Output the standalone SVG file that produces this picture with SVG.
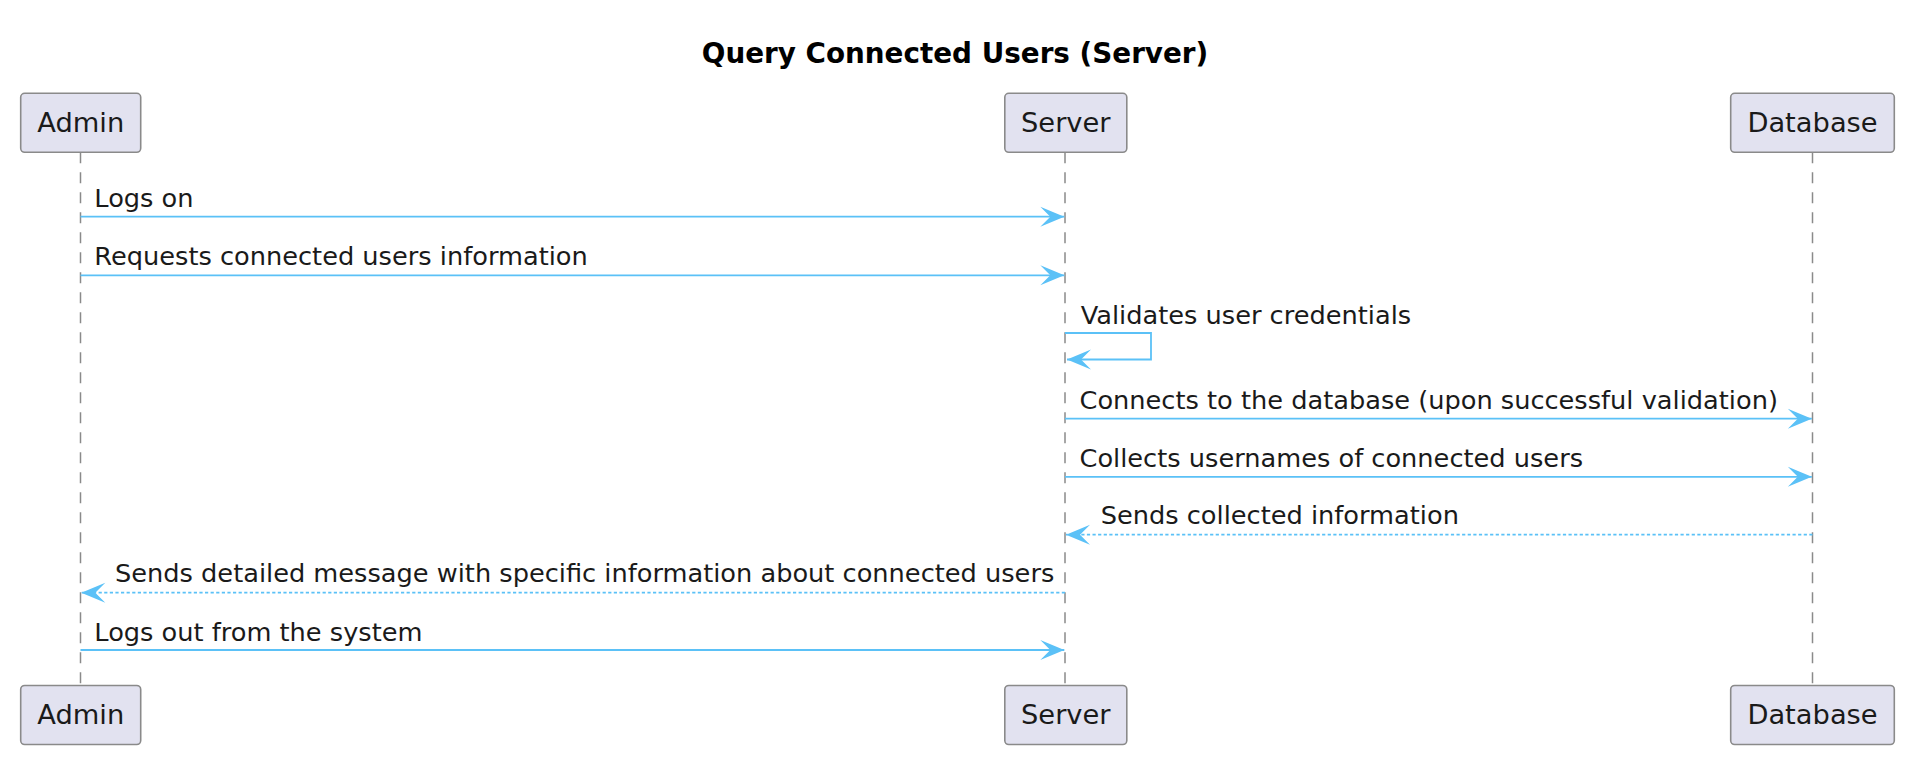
<svg xmlns="http://www.w3.org/2000/svg" width="1910" height="782" viewBox="0 0 1910 782">
<style>
.box{fill:#E2E2F0;stroke:#8a8a8a;stroke-width:1.6}
.pt{font-family:"DejaVu Sans",sans-serif;font-size:27.3px;fill:#1a1a1a;text-anchor:middle}
.life{stroke:#8a8a8a;stroke-width:1.5;stroke-dasharray:11,9;fill:none}
.msg{stroke:#5BC1F7;stroke-width:1.8;fill:none;marker-end:url(#ah)}
.ret{stroke:#5BC1F7;stroke-width:1.8;fill:none;stroke-dasharray:3.2,2.4;marker-end:url(#ah)}
.mt{font-family:"DejaVu Sans",sans-serif;font-size:25.65px;fill:#1a1a1a}
.title{font-family:"DejaVu Sans",sans-serif;font-size:27.8px;font-weight:bold;fill:#000;text-anchor:middle}
</style>
<defs>
<marker id="ah" markerUnits="userSpaceOnUse" viewBox="-25 -11 26 22" markerWidth="26" markerHeight="22" refX="0" refY="0" orient="auto">
<path d="M0,0 L-24,-10 L-14,0 L-24,10 Z" fill="#5BC1F7"/>
</marker>
</defs>
<rect width="1910" height="782" fill="#fff"/>
<text class="title" x="955" y="63.3">Query Connected Users (Server)</text>
<g id="lifelines">
<line class="life" x1="80.5" y1="152.3" x2="80.5" y2="685.5"/>
<line class="life" x1="1065" y1="152.3" x2="1065" y2="685.5"/>
<line class="life" x1="1812.5" y1="152.3" x2="1812.5" y2="685.5"/>
</g>
<g id="admin">
<rect class="box" x="20.7" y="93.3" width="120" height="59" rx="4"/>
<text class="pt" x="80.7" y="131.7">Admin</text>
<rect class="box" x="20.7" y="685.5" width="120" height="59" rx="4"/>
<text class="pt" x="80.7" y="724.2">Admin</text>
</g>
<g id="server">
<rect class="box" x="1004.8" y="93.3" width="122" height="59" rx="4"/>
<text class="pt" x="1065.8" y="131.7">Server</text>
<rect class="box" x="1004.8" y="685.5" width="122" height="59" rx="4"/>
<text class="pt" x="1065.8" y="724.2">Server</text>
</g>
<g id="database">
<rect class="box" x="1730.7" y="93.3" width="163.6" height="59" rx="4"/>
<text class="pt" x="1812.5" y="131.7">Database</text>
<rect class="box" x="1730.7" y="685.5" width="163.6" height="59" rx="4"/>
<text class="pt" x="1812.5" y="724.2">Database</text>
</g>
<g id="connectors">
<line class="msg" x1="80.5" y1="216.7" x2="1064.3" y2="216.7"/>
<text class="mt" x="94.3" y="207.3">Logs on</text>
<line class="msg" x1="80.5" y1="275.3" x2="1064.3" y2="275.3"/>
<text class="mt" x="94.3" y="265.3">Requests connected users information</text>
<path class="msg" d="M1065,333 H1151 V359.5 H1067"/>
<text class="mt" x="1080.7" y="323.5">Validates user credentials</text>
<line class="msg" x1="1065" y1="418.7" x2="1811.8" y2="418.7"/>
<text class="mt" x="1079.5" y="408.7">Connects to the database (upon successful validation)</text>
<line class="msg" x1="1065" y1="476.8" x2="1811.8" y2="476.8"/>
<text class="mt" x="1079.5" y="466.8">Collects usernames of connected users</text>
<line class="ret" x1="1812.5" y1="534.7" x2="1066" y2="534.7"/>
<text class="mt" x="1100.7" y="523.6">Sends collected information</text>
<line class="ret" x1="1065" y1="592.7" x2="81.3" y2="592.7"/>
<text class="mt" x="115" y="581.5">Sends detailed message with specific information about connected users</text>
<line class="msg" x1="80.5" y1="650" x2="1064.3" y2="650"/>
<text class="mt" x="94.3" y="640.8">Logs out from the system</text>
</g>
</svg>
